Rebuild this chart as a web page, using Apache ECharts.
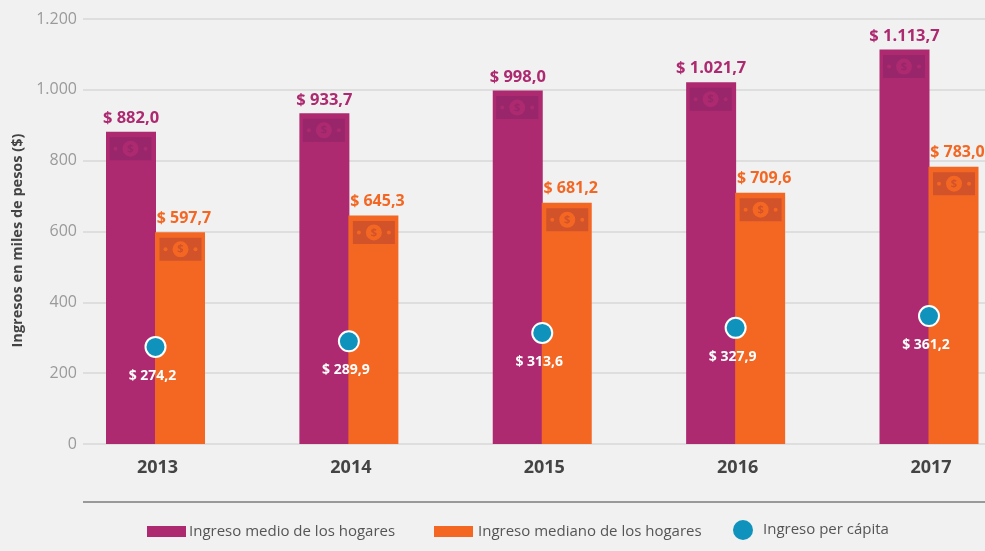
<!DOCTYPE html>
<html><head><meta charset="utf-8">
<style>html,body{margin:0;padding:0;background:#f1f1f1;overflow:hidden}#c{width:985px;height:551px}</style>
<script src="https://cdn.jsdelivr.net/npm/echarts@6/dist/echarts.min.js"></script>
</head><body><div id="c"></div>
<script>
const years = ['2013','2014','2015','2016','2017'];
const medio = [882.0, 933.7, 998.0, 1021.7, 1113.7];
const mediano = [597.7, 645.3, 681.2, 709.6, 783.0];
const perCapita = [274.2, 289.9, 313.6, 327.9, 361.2];
const names = ['Ingreso medio de los hogares','Ingreso mediano de los hogares','Ingreso per cápita'];

const FONT = '"Open Sans", sans-serif';
const PURPLE = '#AD2A70', ORANGE = '#F46723', BLUE = '#0F93BC';
const fmt = v => {
  const [a, b] = v.toFixed(1).split('.');
  return '$ ' + a.replace(/\B(?=(\d{3})+$)/g, '.') + ',' + b;
};
const bill = (values, shift, dark, base) => ({
  type: 'custom', xAxisIndex: 1, yAxisIndex: 1, z: 4, silent: true, clip: false,
  data: values.map((v, i) => [i, v]),
  renderItem(params, api) {
    const p = api.coord([api.value(0), api.value(1)]);
    const cx = p[0] + shift, cy = p[1] + 17;
    return { type: 'group', children: [
      { type: 'rect', shape: { x: cx - 21, y: cy - 11.5, width: 42, height: 23 }, style: { fill: dark } },
      { type: 'circle', shape: { cx, cy, r: 8 }, style: { fill: base } },
      { type: 'circle', shape: { cx: cx - 15, cy, r: 2 }, style: { fill: base } },
      { type: 'circle', shape: { cx: cx + 15, cy, r: 2 }, style: { fill: base } },
      { type: 'text', style: { x: cx, y: cy, text: '$', fill: dark, font: 'bold 11px ' + FONT, align: 'center', verticalAlign: 'middle' } }
    ]};
  }
});
const legendBase = { selectedMode: false, orient: 'horizontal', padding: 0,
  textStyle: { color: '#555', fontSize: 15, fontFamily: FONT } };

const chart = echarts.init(document.getElementById('c'), null, { renderer: 'canvas' });
chart.setOption({
  backgroundColor: '#f1f1f1',
  animation: false,
  grid: [
    { left: 83, top: 19, width: 902, height: 425 },
    { left: 155.5, top: 19, width: 773.5, height: 425 }
  ],
  xAxis: [
    { gridIndex: 0, type: 'category', data: years, show: false },
    { gridIndex: 1, type: 'category', data: years, boundaryGap: false,
      axisLine: { show: false }, axisTick: { show: false },
      axisLabel: { margin: 15, color: '#444', fontSize: 18, fontWeight: 'bold', fontFamily: FONT, padding: [0, 0, 0, 4], showMinLabel: true, showMaxLabel: true, interval: 0 } }
  ],
  yAxis: [
    { gridIndex: 0, type: 'value', min: 0, max: 1200, interval: 200,
      name: 'Ingresos en miles de pesos ($)', nameLocation: 'middle', nameGap: 58, nameRotate: 90,
      nameTextStyle: { color: '#444', fontSize: 14.5, fontWeight: 'bold', fontFamily: FONT, padding: [0, 18, 0, 0] },
      axisLine: { show: false }, axisTick: { show: false },
      axisLabel: { margin: 6, color: '#9a9a9a', fontSize: 16, fontFamily: FONT,
        formatter: v => String(v).replace(/\B(?=(\d{3})+$)/g, '.') },
      splitLine: { lineStyle: { color: '#dedede', width: 2 } } },
    { gridIndex: 1, type: 'value', min: 0, max: 1200, interval: 200, show: false }
  ],
  legend: [
    { ...legendBase, left: 147, top: 524, itemWidth: 39, itemHeight: 11, data: [{ name: names[0], icon: 'rect' }], textStyle: { ...legendBase.textStyle, padding: [0, 0, 0, -2] } },
    { ...legendBase, left: 434, top: 524, itemWidth: 39, itemHeight: 11, data: [{ name: names[1], icon: 'rect' }] },
    { ...legendBase, left: 733, top: 520, itemWidth: 20, itemHeight: 20, data: [{ name: names[2], icon: 'circle', itemStyle: { borderWidth: 0 } }],
      textStyle: { ...legendBase.textStyle, padding: [2, 0, 0, 5] } }
  ],
  graphic: [{ type: 'line', silent: true, shape: { x1: 83, y1: 502, x2: 985, y2: 502 }, style: { stroke: '#999', lineWidth: 2 } }],
  series: [
    { name: names[0], type: 'bar', xAxisIndex: 1, yAxisIndex: 1, data: medio, barWidth: 50, barGap: '-2%', z: 2, clip: false,
      itemStyle: { color: PURPLE },
      label: { show: true, position: 'top', distance: 5, color: PURPLE, fontSize: 16.5, fontWeight: 'bold', fontFamily: FONT, formatter: p => fmt(p.value) } },
    { name: names[1], type: 'bar', xAxisIndex: 1, yAxisIndex: 1, data: mediano, barWidth: 50, z: 3, clip: false,
      itemStyle: { color: ORANGE },
      label: { show: true, position: 'top', distance: 6, offset: [4, 0], color: ORANGE, fontSize: 16, fontWeight: 'bold', fontFamily: FONT, formatter: p => fmt(p.value) } },
    bill(medio, -25, '#99266A', PURPLE),
    bill(mediano, 25, '#D2522A', ORANGE),
    { name: names[2], type: 'scatter', xAxisIndex: 1, yAxisIndex: 1, data: perCapita, symbol: 'circle', symbolSize: 20, z: 6, clip: false,
      itemStyle: { color: BLUE, borderColor: '#fff', borderWidth: 2, opacity: 1 },
      label: { show: true, position: 'bottom', distance: 11, offset: [-3, 0], color: '#fff', fontSize: 14, fontWeight: 'bold', fontFamily: FONT, formatter: p => fmt(p.value) } }
  ]
});
</script></body></html>
